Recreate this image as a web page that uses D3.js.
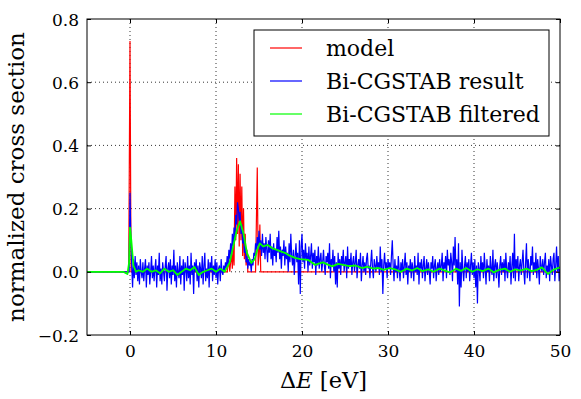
<!DOCTYPE html>
<html>
<head>
<meta charset="utf-8">
<script src="https://cdn.jsdelivr.net/npm/d3@7"></script>
<style>
  body { margin: 0; background: #fff; }
  svg text { font-family: "DejaVu Serif", "Liberation Serif", serif; fill: #000; }
</style>
</head>
<body>
<div id="vis"></div>
<script>
var margin = { top: 19, right: 21, bottom: 64, left: 87 },
    width = 581 - margin.left - margin.right,
    height = 399 - margin.top - margin.bottom;

const fontFamily = '"DejaVu Serif", "Liberation Serif", serif';

// model (red): energy / value
const modelE = [-5, -0.15, 0, 0.12, 11.3, 11.5, 11.6, 11.8, 11.9, 12.0, 12.1, 12.2, 12.3, 12.4, 12.5, 12.6,
    12.7, 12.8, 12.9, 13.0, 13.1, 13.2, 13.3, 13.4, 13.5, 13.6, 13.7, 14.6, 14.8, 14.9, 15.0, 15.1, 15.2, 50];
const modelVal = [0, 0, 0.73, 0, 0, 0.04, 0, 0.06, 0.01, 0.08, 0.02, 0.27, 0.1, 0.36, 0.12, 0.34,
    0.08, 0.31, 0.1, 0.27, 0.05, 0.2, 0.04, 0.12, 0.02, 0.07, 0, 0, 0.33, 0.02, 0.05, 0.15, 0, 0];

// Bi-CGSTAB result (blue): flat part before 0, then samples every 0.1 eV from 0 to 50
const resultLeadE = [-5, -0.1];
const resultLeadVal = [0, 0];
const resultStart = 0, resultStep = 0.1;
const resultVal = [
    0.25, 0.10, 0.02, -0.05, 0.04, -0.02, 0.05, -0.01, 0.03, -0.03,
    0.02, -0.04, 0.04, 0.00, -0.02, 0.03, -0.03, 0.01, 0.04, -0.05,
    0.02, -0.01, 0.03, -0.04, 0.00, 0.05, -0.02, 0.02, -0.03, 0.01,
    0.04, -0.05, 0.02, -0.01, 0.06, -0.03, 0.01, -0.04, 0.03, 0.00,
    -0.03, 0.02, 0.05, -0.06, 0.01, 0.03, -0.02, 0.04, -0.04, 0.02,
    -0.01, 0.07, -0.03, 0.02, -0.05, 0.03, 0.00, -0.02, 0.05, -0.04,
    0.02, -0.01, 0.04, -0.06, 0.03, 0.01, -0.03, 0.05, -0.02, 0.02,
    -0.04, 0.06, -0.01, 0.02, -0.07, 0.03, 0.00, 0.04, -0.03, 0.02,
    -0.05, 0.03, 0.01, -0.02, 0.05, -0.04, 0.02, 0.06, -0.03, 0.01,
    -0.02, 0.04, -0.05, 0.03, 0.00, 0.05, -0.03, 0.02, -0.01, 0.04,
    -0.02, 0.03, -0.04, 0.01, 0.02, -0.03, 0.04, 0.00, -0.01, 0.02,
    0.00, 0.03, 0.01, 0.05, 0.02, 0.07, 0.04, 0.09, 0.05, 0.12,
    0.08, 0.14, 0.10, 0.18, 0.15, 0.22, 0.20, 0.16, 0.19, 0.12,
    0.15, 0.09, 0.11, 0.06, 0.08, 0.03, 0.05, 0.01, 0.04, 0.02,
    0.03, 0.00, 0.04, 0.02, 0.06, 0.05, 0.09, 0.07, 0.11, 0.08,
    0.13, 0.07, 0.10, 0.05, 0.12, 0.06, 0.09, 0.04, 0.11, 0.07,
    0.03, 0.10, 0.06, 0.12, 0.04, 0.08, 0.02, 0.09, 0.05, 0.07,
    0.03, 0.11, 0.06, 0.13, 0.04, 0.08, 0.01, 0.07, 0.05, 0.10,
    0.02, 0.08, 0.04, 0.06, 0.00, 0.09, 0.03, 0.12, 0.05, 0.02,
    0.07, -0.01, 0.05, 0.09, 0.03, 0.06, -0.04, 0.10, -0.07, 0.08,
    0.12, 0.03, 0.07, 0.01, 0.09, 0.04, 0.06, 0.00, 0.08, 0.02,
    0.05, 0.09, 0.01, 0.06, 0.03, 0.07, -0.01, 0.05, 0.02, 0.08,
    0.01, 0.04, 0.06, 0.00, 0.03, 0.07, 0.02, -0.01, 0.05, 0.03,
    0.06, 0.01, 0.09, -0.02, 0.04, 0.02, 0.07, 0.00, 0.05, -0.04,
    0.03, -0.05, 0.06, 0.01, 0.04, -0.01, 0.05, 0.02, 0.07, 0.00,
    0.03, 0.05, -0.02, 0.08, 0.01, 0.04, 0.02, 0.06, -0.01, 0.03,
    0.05, 0.00, 0.03, 0.07, -0.02, 0.02, 0.04, 0.01, 0.06, -0.03,
    0.02, 0.05, 0.00, 0.03, -0.01, 0.04, 0.06, 0.01, 0.02, -0.02,
    0.03, 0.07, 0.01, -0.02, 0.04, 0.02, 0.00, 0.05, 0.01, 0.03,
    -0.01, 0.08, 0.00, 0.04, -0.07, 0.02, 0.06, 0.01, 0.03, -0.02,
    0.04, 0.01, 0.03, -0.01, 0.05, 0.10, 0.02, -0.03, 0.04, 0.00,
    0.02, -0.02, 0.05, 0.01, -0.03, 0.03, 0.00, 0.04, -0.02, 0.02,
    0.06, -0.01, 0.03, -0.04, 0.02, 0.00, 0.04, -0.02, 0.03, 0.01,
    -0.03, 0.05, 0.00, 0.02, -0.01, 0.06, -0.04, 0.03, 0.01, 0.04,
    -0.02, 0.02, 0.05, -0.03, 0.01, 0.04, -0.01, 0.03, 0.00, -0.04,
    0.03, 0.01, 0.05, -0.02, 0.02, 0.04, -0.03, 0.01, 0.03, -0.01,
    0.04, 0.00, 0.02, 0.06, -0.03, 0.03, 0.01, 0.05, -0.02, 0.07,
    0.02, 0.04, -0.01, 0.06, 0.03, -0.03, 0.08, 0.02, 0.11, 0.00,
    0.04, -0.04, 0.09, -0.11, 0.03, -0.05, 0.07, 0.01, -0.03, 0.02,
    0.05, -0.02, 0.03, 0.00, 0.04, -0.03, 0.02, 0.06, -0.01, 0.03,
    -0.02, 0.04, -0.05, 0.02, -0.10, 0.03, 0.01, -0.03, 0.05, 0.00,
    0.03, -0.02, 0.06, 0.01, -0.04, 0.04, 0.00, 0.02, -0.03, 0.05,
    0.01, -0.01, 0.07, -0.03, 0.02, 0.04, -0.02, 0.03, 0.00, -0.05,
    0.02, 0.05, -0.01, 0.03, 0.00, 0.04, -0.03, 0.06, 0.01, -0.02,
    0.03, 0.00, 0.05, -0.04, 0.02, 0.06, -0.02, 0.12, -0.03, 0.04,
    0.01, 0.05, -0.03, 0.02, 0.04, -0.01, 0.03, 0.07, 0.00, -0.04,
    0.03, 0.09, -0.02, 0.04, 0.01, -0.03, 0.05, 0.02, 0.08, -0.01,
    0.03, 0.00, 0.06, -0.02, 0.04, 0.01, -0.04, 0.05, 0.02, 0.00,
    0.04, -0.01, 0.03, 0.06, -0.02, 0.02, 0.00, 0.04, -0.03, 0.05,
    0.02, -0.01, 0.04, 0.06, -0.03, 0.02, 0.08, 0.00, 0.05, -0.03, 0.01
];

// Bi-CGSTAB filtered (green)
const filteredE = [-5, -0.8, -0.3, -0.1, 0, 0.15, 0.4, 0.7, 1, 1.5, 2, 2.5, 3, 3.5, 4, 4.5, 5, 5.5, 6, 6.5,
    7, 7.5, 8, 8.5, 9, 9.5, 10, 10.5, 11, 11.6, 12, 12.4, 12.8, 13.2, 13.6, 14.1, 14.5, 14.8, 15.1, 15.5,
    16, 16.5, 17, 17.6, 18, 18.5, 19.2, 19.8, 20.7, 21.5, 22.4, 23.5, 24.2, 24.8, 25.5, 26.2, 27, 27.6,
    28.3, 28.9, 29.5, 30.2, 30.8, 31.5, 32.2, 32.8, 33.4, 34, 34.7, 35.3, 36, 36.6, 37.2, 37.9, 38.5,
    39.1, 39.8, 40.4, 41, 41.7, 42.3, 42.9, 43.6, 44.2, 44.8, 45.4, 46.1, 46.7, 47.3, 47.9, 48.6, 49.2, 50];
const filteredVal = [0, 0, -0.007, 0.03, 0.14, 0.1, 0.02, 0.0, 0.005, 0.0, 0.01, 0.0, 0.005, -0.005, 0.01, 0.0,
    0.005, -0.01, 0.0, 0.01, 0.005, 0.015, -0.01, 0.0, 0.005, 0.01, 0.0, 0.01, 0.0, 0.03, 0.08, 0.13, 0.16,
    0.12, 0.06, 0.028, 0.04, 0.07, 0.09, 0.08, 0.085, 0.075, 0.07, 0.064, 0.06, 0.052, 0.044, 0.04, 0.038,
    0.022, 0.03, 0.017, 0.025, 0.022, 0.018, 0.02, 0.012, 0.016, 0.01, 0.012, 0.006, 0.012, 0.008, 0.0,
    0.01, 0.004, 0.012, 0.002, 0.008, 0.0, 0.01, 0.004, -0.002, 0.01, 0.003, 0.012, 0.0, 0.008, 0.002,
    0.01, -0.002, 0.006, 0.01, 0.0, 0.008, 0.004, 0.01, 0.002, 0.006, 0.014, -0.007, 0.006, 0.014];

const xTicks = [0, 10, 20, 30, 40, 50];
const yTicks = [-0.2, 0.0, 0.2, 0.4, 0.6, 0.8];
const seriesNames = ["model", "Bi-CGSTAB result", "Bi-CGSTAB filtered"];
const seriesColors = ["#ff0000", "#0000ff", "#00ff00"];

const svg = d3.select("#vis")
    .append("svg")
    .attr("width", width + margin.left + margin.right)
    .attr("height", height + margin.top + margin.bottom)
    .append("g")
    .attr("transform", `translate(${margin.left}, ${margin.top})`);

const x = d3.scaleLinear().domain([-5, 50]).range([0, width]);
const y = d3.scaleLinear().domain([-0.2, 0.8]).range([height, 0]);

// grid
svg.append("g").selectAll("line")
    .data(xTicks.filter(d => d > -5 && d < 50))
    .join("line")
    .attr("x1", d => x(d)).attr("x2", d => x(d))
    .attr("y1", 0).attr("y2", height)
    .attr("stroke", "#000").attr("stroke-width", 0.8)
    .attr("stroke-dasharray", "1,3");
svg.append("g").selectAll("line")
    .data(yTicks.filter(d => d > -0.2 && d < 0.8))
    .join("line")
    .attr("x1", 0).attr("x2", width)
    .attr("y1", d => y(d)).attr("y2", d => y(d))
    .attr("stroke", "#000").attr("stroke-width", 0.8)
    .attr("stroke-dasharray", "1,3");

svg.append("clipPath").attr("id", "clip")
    .append("rect").attr("width", width).attr("height", height);

const line = d3.line().x(d => x(d[0])).y(d => y(d[1]));

const modelData = modelE.map((e, i) => [e, modelVal[i]]);
const resultData = resultLeadE.map((e, i) => [e, resultLeadVal[i]])
    .concat(resultVal.map((v, i) => [resultStart + i * resultStep, v]));
const filteredData = filteredE.map((e, i) => [e, filteredVal[i]]);

const plot = svg.append("g").attr("clip-path", "url(#clip)");
plot.append("path").datum(modelData).attr("d", line)
    .attr("fill", "none").attr("stroke", seriesColors[0]).attr("stroke-width", 1.2);
plot.append("path").datum(resultData).attr("d", line)
    .attr("fill", "none").attr("stroke", seriesColors[1]).attr("stroke-width", 1.2);
plot.append("path").datum(filteredData).attr("d", line)
    .attr("fill", "none").attr("stroke", seriesColors[2]).attr("stroke-width", 1.8)
    .attr("stroke-linejoin", "round");

// axes, ticks pointing inward on all four sides
const fmtY = d => d3.format(".1f")(d).replace("-", "\u2212");
const axBottom = svg.append("g").attr("transform", `translate(0,${height})`)
    .call(d3.axisBottom(x).tickValues(xTicks).tickSize(-4).tickPadding(10).tickFormat(d3.format("d")));
const axTop = svg.append("g")
    .call(d3.axisTop(x).tickValues(xTicks).tickSize(-4).tickFormat(""));
const axLeft = svg.append("g")
    .call(d3.axisLeft(y).tickValues(yTicks).tickSize(-4).tickPadding(8).tickFormat(fmtY));
const axRight = svg.append("g").attr("transform", `translate(${width},0)`)
    .call(d3.axisRight(y).tickValues(yTicks).tickSize(-4).tickFormat(""));

[axBottom, axTop, axLeft, axRight].forEach(a => {
    a.select(".domain").remove();
    a.selectAll(".tick line").attr("stroke", "#000");
    a.selectAll("text").style("font-family", fontFamily).style("font-size", "17px").attr("fill", "#000");
});
axLeft.selectAll("text").attr("dy", "0.36em");

svg.append("rect").attr("width", width).attr("height", height)
    .attr("fill", "none").attr("stroke", "#000").attr("stroke-width", 1);

// axis labels
svg.append("text")
    .attr("x", width / 2).attr("y", height + 53)
    .attr("text-anchor", "middle").style("font-family", fontFamily).style("font-size", "22.5px")
    .html('\u0394<tspan font-style="italic">E</tspan> [eV]');
svg.append("text")
    .attr("transform", `translate(${-63},${height / 2}) rotate(-90)`)
    .attr("text-anchor", "middle").style("font-family", fontFamily).style("font-size", "23px")
    .text("normalized cross section");

// legend
const legend = svg.append("g").attr("transform", `translate(${167},${11})`);
legend.append("rect").attr("width", 295).attr("height", 106)
    .attr("fill", "#fff").attr("stroke", "#000").attr("stroke-width", 1);
seriesNames.forEach((name, i) => {
    const g = legend.append("g").attr("transform", `translate(0,${18 + i * 33})`);
    g.append("line").attr("x1", 16).attr("x2", 48)
        .attr("stroke", seriesColors[i]).attr("stroke-width", 1.2);
    g.append("text").attr("x", 72).attr("dy", "0.35em")
        .style("font-family", fontFamily).style("font-size", "22px").text(name);
});
</script>
</body>
</html>
